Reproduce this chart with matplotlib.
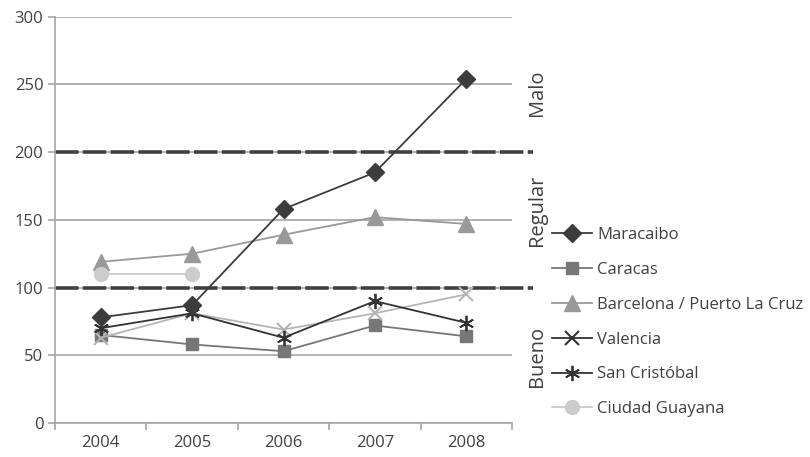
import matplotlib
matplotlib.use("Agg")
import matplotlib.pyplot as plt
from matplotlib.lines import Line2D
import numpy as np

plt.rcParams['font.family'] = ['Open Sans', 'DejaVu Sans']

years = ["2004", "2005", "2006", "2007", "2008"]
maracaibo = [78, 87, 158, 185, 254]
caracas = [65, 58, 53, 72, 64]
barcelona = [119, 125, 139, 152, 147]
valencia = [63, 81, 69, 81, 95]
san_cristobal = [70, 81, 63, 90, 74]
ciudad_guayana = [110, 110]

limits = [200, 100]
zones = ["Malo", "Regular", "Bueno"]
zone_y = [244, 157, 49]

fig = plt.figure(figsize=(8.1, 4.57), dpi=100)
ax = fig.add_axes([0.068, 0.0744, 0.564, 0.889])

x = np.arange(len(years))
grid_c = "#a6a6a6"
text_c = "#404040"

for v in range(0, 301, 50):
    ax.axhline(v, color=grid_c, lw=1.2, zorder=1)

# category limits drawn as thick dashed lines running a bit past the plot
for lim in limits:
    ax.plot([-0.5, 4.73], [lim, lim], color="#404040", lw=2.6,
            dashes=(6.5, 1.2), clip_on=False, zorder=2, solid_capstyle="butt",
            dash_capstyle="butt")

ax.plot(x, barcelona, color="#999999", lw=1.3, marker="^", ms=11, zorder=3)
ax.plot(x[:2], ciudad_guayana, color="#cccccc", lw=1.3, marker="o", ms=10, zorder=3)
ax.plot(x, caracas, color="#777777", lw=1.3, marker="s", ms=9, zorder=3)
ax.plot(x, valencia, color="#b5b5b5", lw=1.3, marker="x", ms=10, mew=1.5, zorder=4)
ax.plot(x, san_cristobal, color="#333333", lw=1.3, marker=(6, 2, 0), ms=11, mew=1.3, zorder=4)
ax.plot(x, maracaibo, color="#3c3c3c", lw=1.3, marker="D", ms=9, zorder=5)

ax.set_xlim(-0.5, 4.5)
ax.set_ylim(0, 300)
ax.set_yticks(range(0, 301, 50))
ax.set_xticks(x)
ax.set_xticklabels(years)
ax.set_xticks(np.arange(-0.5, 4.6, 1), minor=True)
ax.tick_params(axis="x", which="major", length=0, pad=9, labelsize=12, labelcolor=text_c)
ax.tick_params(axis="x", which="minor", length=5, color=grid_c, width=1.2)
ax.tick_params(axis="y", length=5, color=grid_c, width=1.2, labelsize=12, labelcolor=text_c)

for s in ["top", "right"]:
    ax.spines[s].set_visible(False)
for s in ["left", "bottom"]:
    ax.spines[s].set_color(grid_c)
    ax.spines[s].set_linewidth(1.2)

for name, yv in zip(zones, zone_y):
    ax.text(4.77, yv, name, rotation=90, ha="center", va="center",
            fontsize=14.5, color=text_c, clip_on=False)

handles = [
    Line2D([], [], color="#3c3c3c", lw=1.3, marker="D", ms=9),
    Line2D([], [], color="#777777", lw=1.3, marker="s", ms=9),
    Line2D([], [], color="#999999", lw=1.3, marker="^", ms=11),
    Line2D([], [], color="#333333", lw=1.3, marker="x", ms=10, mew=1.5),
    Line2D([], [], color="#333333", lw=1.3, marker=(6, 2, 0), ms=11, mew=1.3),
    Line2D([], [], color="#cccccc", lw=1.3, marker="o", ms=10),
]
labels = ["Maracaibo", "Caracas", "Barcelona / Puerto La Cruz",
          "Valencia", "San Cristóbal", "Ciudad Guayana"]
leg = fig.legend(handles, labels, loc="upper left", bbox_to_anchor=(0.682, 0.503),
                 frameon=False, fontsize=12, handlelength=2.4, labelspacing=1.13,
                 handletextpad=0.3, borderaxespad=0, borderpad=0)
for t in leg.get_texts():
    t.set_color(text_c)

fig.savefig("out.png", dpi=100)
